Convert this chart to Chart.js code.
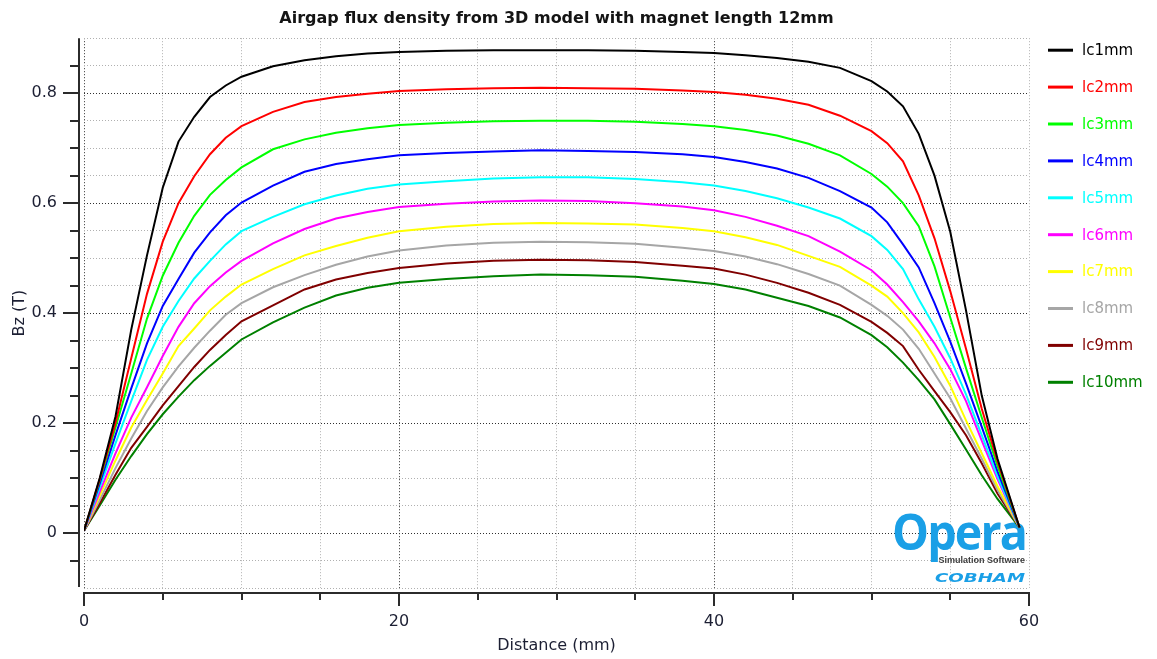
<!DOCTYPE html>
<html>
<head>
<meta charset="utf-8">
<script src="https://cdn.jsdelivr.net/npm/chart.js@4/dist/chart.umd.min.js"></script>
<style>
  html, body { margin: 0; padding: 0; background: #ffffff; }
  #wrap { width: 1157px; height: 659px; }
</style>
</head>
<body>
<div id="wrap"><canvas id="c" width="1157" height="659"></canvas></div>
<script>
// Sample positions along the airgap (mm)
const distanceMm = [0, 1, 2, 3, 4, 5, 6, 7, 8, 9, 10, 12, 14, 16, 18, 20, 23, 26, 29, 32, 35, 38,
  40, 42, 44, 46, 48, 50, 51, 52, 53, 54, 55, 56, 57, 58, 59.4];

// Bz (T) for each magnet-to-core length lc
const lc1mm = [0.004, 0.100, 0.212, 0.370, 0.505, 0.628, 0.712, 0.757, 0.793, 0.814, 0.830, 0.849, 0.860, 0.867, 0.872, 0.875,
  0.877, 0.878, 0.878, 0.878, 0.877, 0.875, 0.873, 0.869, 0.864, 0.857, 0.846, 0.822, 0.803, 0.776, 0.726, 0.650, 0.548, 0.405,
  0.250, 0.135, 0.010];
const lc2mm = [0.004, 0.098, 0.200, 0.318, 0.435, 0.530, 0.600, 0.649, 0.689, 0.719, 0.740, 0.766, 0.784, 0.793, 0.799, 0.804,
  0.807, 0.809, 0.810, 0.809, 0.808, 0.805, 0.802, 0.797, 0.790, 0.779, 0.759, 0.731, 0.709, 0.676, 0.614, 0.536, 0.440, 0.335,
  0.226, 0.130, 0.010];
const lc3mm = [0.004, 0.096, 0.192, 0.290, 0.390, 0.468, 0.528, 0.577, 0.615, 0.642, 0.665, 0.698, 0.716, 0.728, 0.736, 0.742,
  0.746, 0.749, 0.750, 0.750, 0.748, 0.744, 0.740, 0.733, 0.723, 0.708, 0.687, 0.653, 0.630, 0.600, 0.558, 0.485, 0.392, 0.300,
  0.210, 0.122, 0.010];
const lc4mm = [0.004, 0.090, 0.178, 0.263, 0.345, 0.413, 0.462, 0.510, 0.547, 0.578, 0.601, 0.632, 0.657, 0.671, 0.680, 0.687,
  0.691, 0.694, 0.696, 0.695, 0.693, 0.689, 0.684, 0.675, 0.663, 0.646, 0.622, 0.592, 0.565, 0.525, 0.483, 0.418, 0.348, 0.272,
  0.193, 0.112, 0.010];
const lc5mm = [0.004, 0.083, 0.163, 0.240, 0.315, 0.375, 0.422, 0.463, 0.495, 0.525, 0.549, 0.575, 0.598, 0.614, 0.626, 0.634,
  0.640, 0.645, 0.647, 0.647, 0.644, 0.638, 0.632, 0.622, 0.609, 0.592, 0.572, 0.540, 0.515, 0.480, 0.425, 0.375, 0.318, 0.252,
  0.178, 0.103, 0.010];
const lc6mm = [0.004, 0.075, 0.145, 0.210, 0.265, 0.322, 0.375, 0.418, 0.449, 0.474, 0.495, 0.527, 0.553, 0.572, 0.584, 0.593,
  0.599, 0.603, 0.605, 0.604, 0.600, 0.594, 0.587, 0.575, 0.559, 0.540, 0.512, 0.478, 0.452, 0.420, 0.385, 0.345, 0.298, 0.240,
  0.168, 0.098, 0.010];
const lc7mm = [0.004, 0.068, 0.132, 0.192, 0.242, 0.290, 0.340, 0.372, 0.405, 0.430, 0.452, 0.480, 0.505, 0.522, 0.537, 0.549,
  0.557, 0.562, 0.564, 0.563, 0.561, 0.555, 0.549, 0.538, 0.524, 0.504, 0.484, 0.450, 0.430, 0.400, 0.365, 0.320, 0.268, 0.205,
  0.145, 0.085, 0.010];
const lc8mm = [0.004, 0.060, 0.118, 0.172, 0.222, 0.265, 0.303, 0.337, 0.368, 0.397, 0.418, 0.447, 0.469, 0.488, 0.503, 0.514,
  0.523, 0.528, 0.530, 0.529, 0.526, 0.519, 0.513, 0.503, 0.489, 0.471, 0.450, 0.415, 0.395, 0.370, 0.335, 0.290, 0.245, 0.190,
  0.135, 0.078, 0.010];
const lc9mm = [0.004, 0.054, 0.106, 0.155, 0.193, 0.232, 0.267, 0.302, 0.333, 0.360, 0.385, 0.414, 0.443, 0.461, 0.473, 0.482,
  0.490, 0.495, 0.497, 0.496, 0.493, 0.486, 0.481, 0.470, 0.455, 0.437, 0.415, 0.384, 0.364, 0.340, 0.297, 0.258, 0.220, 0.178,
  0.127, 0.072, 0.010];
const lc10mm = [0.004, 0.050, 0.097, 0.140, 0.180, 0.216, 0.248, 0.278, 0.304, 0.328, 0.352, 0.383, 0.410, 0.432, 0.446, 0.455,
  0.462, 0.467, 0.470, 0.469, 0.466, 0.459, 0.453, 0.443, 0.428, 0.413, 0.392, 0.360, 0.338, 0.310, 0.278, 0.243, 0.198, 0.152,
  0.105, 0.062, 0.010];

const seriesLabels = ['lc1mm', 'lc2mm', 'lc3mm', 'lc4mm', 'lc5mm', 'lc6mm', 'lc7mm', 'lc8mm', 'lc9mm', 'lc10mm'];
const seriesValues = [lc1mm, lc2mm, lc3mm, lc4mm, lc5mm, lc6mm, lc7mm, lc8mm, lc9mm, lc10mm];
const seriesColors = ['#000000', '#ff0000', '#00ff00', '#0000ff', '#00ffff', '#ff00ff', '#ffff00', '#a6a6a6', '#800000', '#008000'];

// Labelled ticks on each axis
const xTickLabels = [0, 20, 40, 60];
const yTickLabels = [0, 0.2, 0.4, 0.6, 0.8];

const FONT = '"DejaVu Sans", Verdana, sans-serif';
const TEXT_COLOR = '#1c1f33';

const isMajorX = v => xTickLabels.some(t => Math.abs(t - v) < 1e-6);
const isMajorY = v => yTickLabels.some(t => Math.abs(t - v) < 1e-6);

// Offset axis spines with long/short tick marks, placed from the scales
const axisSpines = {
  id: 'axisSpines',
  afterDraw(chart) {
    const {ctx, chartArea: a, scales: {x, y}} = chart;
    ctx.save();
    ctx.strokeStyle = '#2b2b2b';
    ctx.lineWidth = 2;
    const sx = a.left - 5;
    ctx.beginPath();
    ctx.moveTo(sx, a.top);
    ctx.lineTo(sx, a.bottom - 1);
    y.ticks.forEach(t => {
      if (t.value <= y.min + 1e-6 || t.value >= y.max - 1e-6) return;
      const py = Math.round(y.getPixelForValue(t.value));
      const len = isMajorY(t.value) ? 16 : 9;
      ctx.moveTo(sx - len, py);
      ctx.lineTo(sx, py);
    });
    const sy = a.bottom + 5;
    ctx.moveTo(a.left - 1, sy);
    ctx.lineTo(a.right + 1, sy);
    x.ticks.forEach(t => {
      const px = Math.round(x.getPixelForValue(t.value));
      const len = isMajorX(t.value) ? 13 : 7;
      ctx.moveTo(px, sy);
      ctx.lineTo(px, sy + len);
    });
    ctx.stroke();
    ctx.restore();
  }
};

// Series key to the right of the plot
const sideLegend = {
  id: 'sideLegend',
  afterDraw(chart) {
    const {ctx, chartArea: a} = chart;
    const x0 = a.right + 19;
    ctx.save();
    ctx.font = '15px ' + FONT;
    ctx.textBaseline = 'middle';
    ctx.textAlign = 'left';
    chart.data.datasets.forEach((ds, i) => {
      const yy = a.top + 12 + i * 36.9;
      ctx.strokeStyle = ds.borderColor;
      ctx.lineWidth = 3;
      ctx.beginPath();
      ctx.moveTo(x0, yy);
      ctx.lineTo(x0 + 25, yy);
      ctx.stroke();
      ctx.fillStyle = ds.borderColor;
      ctx.fillText(ds.label, x0 + 34, yy + 1);
    });
    ctx.restore();
  }
};

// Software badge in the lower right corner of the plot
const badge = {
  id: 'badge',
  beforeDatasetsDraw(chart) {
    const {ctx, chartArea: a} = chart;
    const right = a.right - 4;
    ctx.save();
    ctx.textAlign = 'right';
    ctx.textBaseline = 'alphabetic';
    ctx.fillStyle = '#1a9fe6';
    ctx.font = 'bold 50px "Open Sans", sans-serif';
    if ('letterSpacing' in ctx) ctx.letterSpacing = '-2px';
    ctx.fillText('Opera', right + 1, a.bottom - 38, 134);
    if ('letterSpacing' in ctx) ctx.letterSpacing = '0px';
    ctx.fillStyle = '#3c3c3c';
    ctx.font = 'bold 9px "Liberation Sans", Arial, sans-serif';
    ctx.fillText('Simulation Software', right, a.bottom - 25, 88);
    ctx.fillStyle = '#1a9fe6';
    ctx.font = 'bold italic 13px "DejaVu Sans", sans-serif';
    const w = ctx.measureText('COBHAM').width;
    ctx.translate(right, a.bottom - 6);
    ctx.scale(90 / w, 1);
    ctx.fillText('COBHAM', 0, 0);
    ctx.restore();
  }
};

const datasets = seriesLabels.map((label, i) => ({
  label,
  data: distanceMm.map((d, k) => ({x: d, y: seriesValues[i][k]})),
  borderColor: seriesColors[i],
  backgroundColor: seriesColors[i],
  borderWidth: 2,
  pointRadius: 0,
  tension: 0,
  fill: false
}));

new Chart(document.getElementById('c'), {
  type: 'line',
  data: {datasets},
  options: {
    responsive: false,
    animation: false,
    devicePixelRatio: 1,
    layout: {padding: {left: 0, right: 128, top: 0, bottom: 0}},
    plugins: {
      legend: {display: false},
      tooltip: {enabled: false},
      title: {
        display: true,
        text: 'Airgap flux density from 3D model with magnet length 12mm',
        fullSize: false,
        color: '#141414',
        font: {family: FONT, size: 16, weight: 'bold'},
        padding: {top: 9, bottom: 10}
      }
    },
    scales: {
      x: {
        type: 'linear',
        position: 'bottom',
        min: 0,
        max: 60,
        afterFit: s => { s.height = 71; },
        ticks: {
          stepSize: 5,
          autoSkip: false,
          maxRotation: 0,
          padding: 24,
          color: TEXT_COLOR,
          font: {family: FONT, size: 16},
          callback: v => (isMajorX(v) ? String(v) : '')
        },
        grid: {
          drawTicks: false,
          lineWidth: 1,
          color: c => (isMajorX(c.tick.value) && c.tick.value < 60 ? '#303030' : '#b0b0b0')
        },
        border: {display: false, dash: [1, 2]},
        title: {
          display: true,
          text: 'Distance (mm)',
          color: TEXT_COLOR,
          font: {family: FONT, size: 16},
          padding: {top: 0, bottom: 4}
        }
      },
      y: {
        type: 'linear',
        min: -0.1,
        max: 0.9,
        afterFit: s => { s.width = 84; },
        ticks: {
          stepSize: 0.05,
          autoSkip: false,
          padding: 27,
          color: TEXT_COLOR,
          font: {family: FONT, size: 16},
          callback: v => (isMajorY(v) ? (Math.abs(v) < 1e-9 ? '0' : Number(v).toFixed(1)) : '')
        },
        grid: {
          drawTicks: false,
          lineWidth: 1,
          color: c => (isMajorY(c.tick.value) ? '#303030' : '#b0b0b0')
        },
        border: {display: false, dash: [1, 2]},
        title: {
          display: true,
          text: 'Bz (T)',
          color: TEXT_COLOR,
          font: {family: FONT, size: 16},
          padding: {top: 10, bottom: 0}
        }
      }
    }
  },
  plugins: [badge, axisSpines, sideLegend]
});
</script>
</body>
</html>
